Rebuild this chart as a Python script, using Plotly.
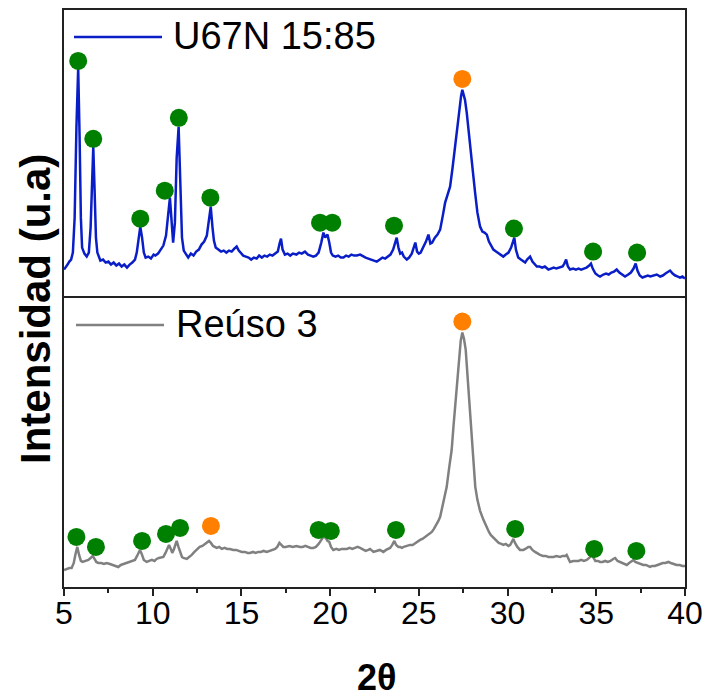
import plotly.graph_objects as go

# ---------------- data ----------------
series_names = ["U67N 15:85", "Reúso 3"]

# Top pattern (U67N 15:85)
tth_top = [5.00, 5.10, 5.20, 5.30, 5.40, 5.50, 5.60, 5.70, 5.80, 5.88, 5.95, 6.02, 6.15, 6.28, 6.40, 6.50, 6.58, 6.65, 6.72, 6.80,
           6.88, 6.97, 7.05, 7.20, 7.35, 7.50, 7.65, 7.80, 7.95, 8.10, 8.25, 8.40, 8.55, 8.70, 8.85, 9.00, 9.10, 9.20, 9.30, 9.40,
           9.50, 9.60, 9.75, 9.90, 10.05, 10.15, 10.30, 10.45, 10.60, 10.75, 10.88, 10.97, 11.05, 11.15, 11.25, 11.35, 11.46, 11.55, 11.65, 11.75,
           11.90, 12.00, 12.15, 12.30, 12.45, 12.60, 12.75, 12.90, 13.05, 13.15, 13.27, 13.37, 13.45, 13.55, 13.70, 13.85, 14.00, 14.15, 14.30, 14.45,
           14.60, 14.73, 14.85, 15.00, 15.10, 15.25, 15.40, 15.55, 15.70, 15.86, 16.00, 16.15, 16.30, 16.45, 16.60, 16.75, 16.90, 17.05, 17.15, 17.23,
           17.32, 17.45, 17.60, 17.75, 17.90, 18.10, 18.25, 18.40, 18.58, 18.75, 18.90, 19.05, 19.20, 19.35, 19.50, 19.62, 19.72, 19.85, 19.95, 20.05,
           20.15, 20.30, 20.45, 20.60, 20.75, 20.90, 21.05, 21.20, 21.35, 21.50, 21.69, 21.85, 22.00, 22.15, 22.30, 22.45, 22.63, 22.80, 22.95, 23.10,
           23.25, 23.40, 23.55, 23.65, 23.75, 23.85, 23.95, 24.05, 24.15, 24.32, 24.45, 24.60, 24.72, 24.80, 24.90, 25.00, 25.10, 25.25, 25.40, 25.54,
           25.65, 25.75, 25.90, 26.05, 26.20, 26.35, 26.48, 26.62, 26.76, 26.90, 27.04, 27.15, 27.28, 27.38, 27.45, 27.52, 27.60, 27.70, 27.79, 27.88,
           27.98, 28.08, 28.17, 28.30, 28.45, 28.58, 28.70, 28.83, 28.95, 29.08, 29.20, 29.35, 29.50, 29.65, 29.76, 29.90, 30.05, 30.20, 30.30, 30.38,
           30.47, 30.60, 30.75, 30.90, 30.99, 31.10, 31.20, 31.27, 31.40, 31.55, 31.65, 31.80, 31.95, 32.10, 32.30, 32.45, 32.60, 32.75, 32.96, 33.10,
           33.20, 33.30, 33.40, 33.52, 33.70, 33.85, 34.00, 34.15, 34.30, 34.45, 34.60, 34.70, 34.80, 34.95, 35.10, 35.21, 35.40, 35.55, 35.70, 35.85,
           36.00, 36.15, 36.30, 36.45, 36.62, 36.80, 36.95, 37.10, 37.22, 37.32, 37.45, 37.60, 37.75, 37.90, 38.05, 38.20, 38.41, 38.60, 38.75, 38.90,
           39.05, 39.16, 39.30, 39.45, 39.60, 39.72, 39.85, 40.00]
int_top = [28, 30, 33, 36, 38, 45, 80, 170, 230, 160, 80, 50, 44, 41, 45, 70, 120, 151, 110, 60,
           45, 40, 37, 38, 35, 36, 33, 35, 32, 34, 31, 33, 30, 33, 35, 38, 45, 58, 71, 60,
           45, 40, 41, 39, 43, 42, 44, 48, 52, 62, 85, 100, 80, 55, 75, 140, 171, 110, 60, 47,
           42, 40, 44, 42, 46, 48, 53, 56, 62, 75, 91, 70, 57, 50, 48, 46, 47, 45, 47, 46,
           49, 51, 47, 44, 42, 41, 40, 38, 40, 39, 42, 40, 42, 41, 43, 42, 44, 46, 54, 59,
           48, 43, 44, 42, 44, 43, 45, 44, 46, 43, 42, 41, 42, 45, 55, 65, 60, 63, 55, 45,
           42, 41, 42, 40, 40, 42, 41, 43, 42, 42, 43, 41, 40, 39, 38, 37, 36, 38, 40, 39,
           41, 43, 48, 55, 60, 50, 44, 45, 41, 38, 40, 44, 52, 55, 46, 44, 45, 50, 56, 63,
           54, 55, 60, 63, 68, 82, 95, 103, 111, 130, 151, 170, 188, 202, 208, 204, 198, 185, 171, 155,
           138, 120, 105, 85, 71, 66, 65, 63, 56, 52, 48, 46, 44, 42, 41, 43, 45, 50, 56, 60,
           48, 40, 38, 36, 35, 38, 40, 41, 36, 33, 31, 31, 30, 31, 28, 29, 30, 29, 30, 31,
           34, 38, 31, 28, 29, 28, 29, 28, 29, 30, 32, 34, 29, 24, 22, 21, 23, 24, 23, 25,
           26, 28, 25, 23, 21, 23, 25, 29, 34, 27, 22, 20, 21, 22, 21, 22, 23, 21, 22, 24,
           26, 27, 24, 22, 21, 20, 21, 19]

# Bottom pattern (Reúso 3)
tth_bot = [5.00, 5.15, 5.30, 5.43, 5.55, 5.65, 5.75, 5.85, 5.95, 6.05, 6.20, 6.37, 6.50, 6.62, 6.72, 6.82, 6.93, 7.10, 7.25, 7.40,
           7.59, 7.75, 7.90, 8.06, 8.20, 8.35, 8.53, 8.70, 8.85, 9.00, 9.12, 9.20, 9.28, 9.38, 9.50, 9.66, 9.80, 9.95, 10.10, 10.22,
           10.35, 10.50, 10.60, 10.72, 10.82, 10.92, 11.02, 11.10, 11.20, 11.28, 11.35, 11.45, 11.55, 11.65, 11.73, 11.85, 11.92, 12.05, 12.20, 12.35,
           12.48, 12.65, 12.80, 12.95, 13.07, 13.17, 13.28, 13.40, 13.50, 13.60, 13.75, 13.90, 14.05, 14.20, 14.35, 14.54, 14.70, 14.85, 15.02, 15.20,
           15.35, 15.48, 15.65, 15.80, 15.95, 16.10, 16.25, 16.43, 16.60, 16.75, 16.90, 17.02, 17.14, 17.25, 17.36, 17.50, 17.70, 17.90, 18.10, 18.30,
           18.45, 18.60, 18.75, 18.90, 19.05, 19.20, 19.35, 19.50, 19.62, 19.75, 19.85, 19.95, 20.05, 20.18, 20.35, 20.50, 20.65, 20.80, 20.94, 21.10,
           21.25, 21.40, 21.55, 21.69, 21.85, 22.00, 22.15, 22.25, 22.44, 22.60, 22.80, 22.90, 23.00, 23.15, 23.28, 23.38, 23.50, 23.62, 23.72, 23.85,
           23.95, 24.04, 24.15, 24.30, 24.50, 24.65, 24.80, 24.95, 25.07, 25.20, 25.35, 25.50, 25.63, 25.73, 25.85, 26.00, 26.10, 26.20, 26.35, 26.45,
           26.57, 26.70, 26.85, 26.95, 27.08, 27.18, 27.27, 27.36, 27.45, 27.54, 27.64, 27.74, 27.83, 27.95, 28.07, 28.18, 28.30, 28.45, 28.64, 28.80,
           28.95, 29.05, 29.20, 29.35, 29.50, 29.65, 29.76, 29.90, 30.05, 30.15, 30.25, 30.33, 30.42, 30.55, 30.70, 30.89, 31.00, 31.10, 31.17, 31.27,
           31.40, 31.55, 31.70, 31.83, 32.00, 32.15, 32.30, 32.45, 32.60, 32.75, 32.96, 33.10, 33.25, 33.33, 33.45, 33.52, 33.70, 33.85, 34.00, 34.15,
           34.30, 34.46, 34.60, 34.74, 34.85, 34.95, 35.10, 35.21, 35.35, 35.50, 35.65, 35.80, 35.95, 36.06, 36.20, 36.35, 36.50, 36.60, 36.72, 36.85,
           36.95, 37.10, 37.20, 37.35, 37.50, 37.65, 37.80, 37.90, 38.03, 38.15, 38.30, 38.45, 38.60, 38.75, 38.90, 39.06, 39.20, 39.35, 39.53, 39.70,
           39.85, 40.00]
int_bot = [17, 18, 19, 19, 24, 33, 40, 32, 26, 25, 26, 27, 29, 31, 28, 25, 24, 24, 23, 24,
           23, 22, 21, 20, 22, 23, 24, 25, 26, 27, 31, 35, 37, 33, 27, 25, 26, 27, 26, 28,
           29, 30, 30, 34, 39, 42, 38, 34, 38, 43, 46, 40, 34, 30, 29, 28, 28, 30, 32, 35,
           37, 40, 41, 43, 45, 46, 44, 41, 40, 39, 40, 38, 39, 38, 38, 37, 37, 36, 35, 35,
           34, 34, 35, 34, 35, 35, 36, 35, 36, 37, 38, 40, 44, 42, 40, 40, 41, 40, 41, 40,
           40, 41, 40, 39, 39, 40, 43, 47, 50, 49, 46, 45, 40, 37, 38, 37, 38, 38, 38, 39,
           38, 39, 40, 39, 37, 36, 37, 38, 35, 36, 37, 36, 35, 37, 38, 39, 42, 46, 42, 40,
           40, 39, 40, 41, 42, 42, 44, 46, 47, 48, 50, 52, 53, 55, 58, 62, 66, 70, 82, 90,
           100, 118, 137, 160, 187, 210, 230, 246, 254, 248, 237, 212, 187, 152, 120, 100, 87, 76, 67, 60,
           55, 52, 49, 47, 44, 43, 42, 43, 41, 42, 45, 48, 44, 40, 37, 37, 38, 39, 40, 40,
           37, 35, 33, 32, 31, 31, 30, 30, 30, 31, 30, 31, 31, 32, 27, 25, 26, 26, 26, 27,
           26, 27, 29, 32, 28, 26, 26, 25, 25, 26, 25, 26, 28, 29, 26, 25, 24, 23, 22, 24,
           25, 27, 25, 24, 23, 22, 22, 21, 20, 21, 21, 22, 23, 24, 24, 25, 24, 23, 22, 22,
           21, 21]

# Peak markers
green_top_x = [5.80, 6.65, 9.30, 10.68, 11.47, 13.25, 19.43, 20.12, 23.60, 30.36, 34.82, 37.30]
green_top_y = [237, 159, 79, 107, 180, 100, 75, 75, 72, 69, 46, 45]
orange_top_x = [27.45]
orange_top_y = [219]

green_bot_x = [5.70, 6.80, 9.40, 10.75, 11.54, 19.35, 20.04, 23.71, 30.43, 34.88, 37.26]
green_bot_y = [50, 40, 46, 53, 59, 57, 56, 57, 58, 38, 36]
orange_bot_x = [13.28, 27.45]
orange_bot_y = [61, 265]

x_ticks = [5, 10, 15, 20, 25, 30, 35, 40]

# ---------------- styles ----------------
BLUE = "#0a1ec8"
GRAY = "#808080"
GREEN = "#008000"
ORANGE = "#ff8000"
AXC = "#222222"
FONT = "Liberation Sans, Arial, sans-serif"

fig = go.Figure()

fig.add_trace(go.Scatter(x=tth_top, y=int_top, mode="lines", line=dict(color=BLUE, width=2.5),
                         xaxis="x2", yaxis="y2", name=series_names[0], showlegend=False))
fig.add_trace(go.Scatter(x=green_top_x, y=green_top_y, mode="markers",
                         marker=dict(color=GREEN, size=18, line=dict(width=0)),
                         xaxis="x2", yaxis="y2", showlegend=False, cliponaxis=False))
fig.add_trace(go.Scatter(x=orange_top_x, y=orange_top_y, mode="markers",
                         marker=dict(color=ORANGE, size=18, line=dict(width=0)),
                         xaxis="x2", yaxis="y2", showlegend=False, cliponaxis=False))

fig.add_trace(go.Scatter(x=tth_bot, y=int_bot, mode="lines", line=dict(color=GRAY, width=2.5),
                         xaxis="x", yaxis="y", name=series_names[1], showlegend=False))
fig.add_trace(go.Scatter(x=green_bot_x, y=green_bot_y, mode="markers",
                         marker=dict(color=GREEN, size=18, line=dict(width=0)),
                         xaxis="x", yaxis="y", showlegend=False, cliponaxis=False))
fig.add_trace(go.Scatter(x=orange_bot_x, y=orange_bot_y, mode="markers",
                         marker=dict(color=ORANGE, size=18, line=dict(width=0)),
                         xaxis="x", yaxis="y", showlegend=False, cliponaxis=False))

L, R, T, B = 64, 22, 10, 113
W = 707 - L - R
PH = 700 - T - B
split = (PH / 2 + 1) / PH

axis_common = dict(showline=True, linecolor=AXC, linewidth=1.5,
                   showgrid=False, zeroline=False, automargin=False)

fig.update_layout(
    width=707, height=700,
    margin=dict(l=L, r=R, t=T, b=B, autoexpand=False),
    paper_bgcolor="white", plot_bgcolor="white",
    font=dict(family=FONT, color="black"),
    xaxis=dict(domain=[0, 1], range=[5, 40], anchor="y", mirror=True,
               tickmode="array", tickvals=x_ticks, ticktext=[str(v) for v in x_ticks],
               ticks="outside", ticklen=7, tickwidth=1.5, tickcolor=AXC,
               ticklabelstandoff=-10,
               tickfont=dict(family=FONT, size=32, color="black"),
               minor=dict(dtick=2.5, tick0=5, ticks="outside", ticklen=4, tickwidth=1.5, tickcolor=AXC),
               **axis_common),
    xaxis2=dict(domain=[0, 1], range=[5, 40], anchor="y2", matches="x", side="top", mirror=False,
                ticks="", showticklabels=False, **axis_common),
    yaxis=dict(domain=[0, split], range=[0, 289], anchor="x", mirror=True,
               ticks="", showticklabels=False, **axis_common),
    yaxis2=dict(domain=[split, 1], range=[0, 288], anchor="x2", mirror=True,
                ticks="", showticklabels=False, **axis_common),
    showlegend=False,
)

# Legends drawn as line samples + labels (one per panel)
def px(xp):
    return (xp - L) / W
def py(yp):
    return (700 - B - yp) / PH

fig.add_shape(type="line", xref="paper", yref="paper", x0=px(74), x1=px(162), y0=py(37), y1=py(37),
              line=dict(color=BLUE, width=2.5))
fig.add_annotation(xref="paper", yref="paper", x=px(171), y=py(36), xanchor="left", yanchor="middle",
                   text=series_names[0], showarrow=False, font=dict(family=FONT, size=38, color="black"))
fig.add_shape(type="line", xref="paper", yref="paper", x0=px(76), x1=px(164), y0=py(325), y1=py(325),
              line=dict(color=GRAY, width=2.5))
fig.add_annotation(xref="paper", yref="paper", x=px(174), y=py(324), xanchor="left", yanchor="middle",
                   text=series_names[1], showarrow=False, font=dict(family=FONT, size=38, color="black"))

# Axis titles
fig.add_annotation(xref="paper", yref="paper", x=px(35), y=py(309), xanchor="center", yanchor="middle",
                   text="<b>Intensidad (u.a)</b>", textangle=-90, showarrow=False,
                   font=dict(family=FONT, size=42, color="black"))
fig.add_annotation(xref="paper", yref="paper", x=px(376), y=py(677), xanchor="center", yanchor="middle",
                   text="<b>2θ</b>", showarrow=False,
                   font=dict(family=FONT, size=36, color="black"))

fig.write_html("out.html")
